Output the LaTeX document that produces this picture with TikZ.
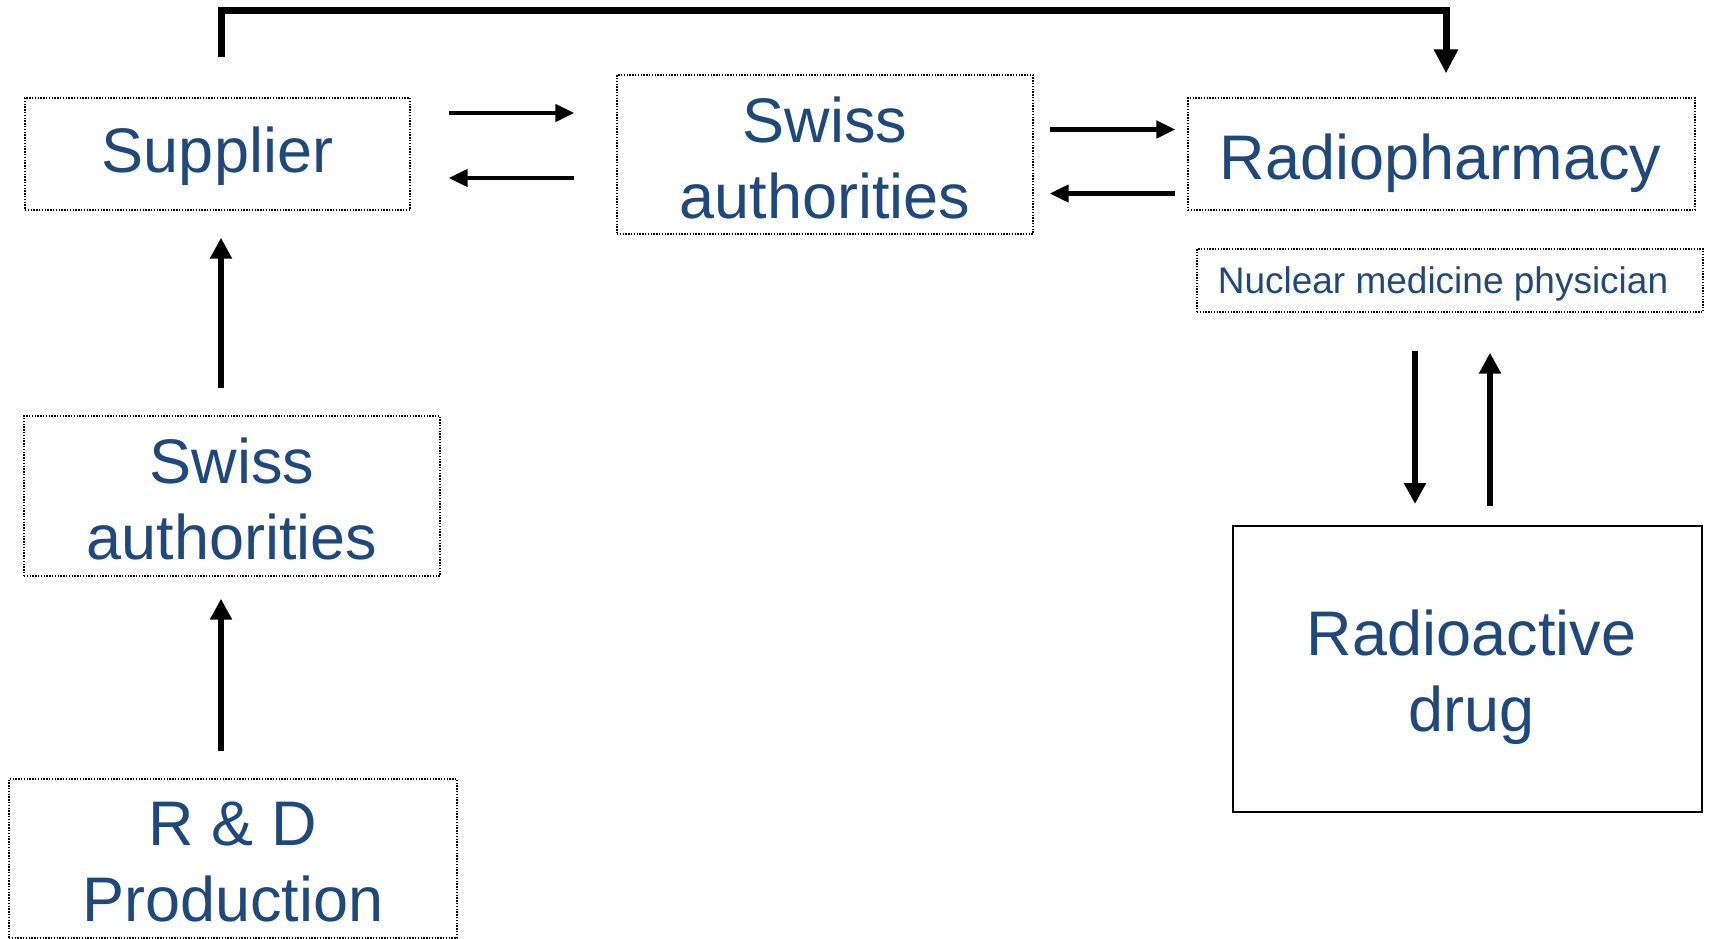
\documentclass[tikz,border=0pt]{standalone}
\usepackage{fontspec}
\setmainfont{Liberation Sans}
\usetikzlibrary{arrows.meta}
\definecolor{txtblue}{RGB}{31,73,125}
\tikzset{
  bigtxt/.style={align=center, text=txtblue, font=\fontsize{63}{76}\selectfont, inner sep=0pt},
  dotbox/.style={draw=black, line width=1.4pt, dash pattern=on 1.4pt off 1.4pt, inner sep=0pt},
  solidbox/.style={draw=black, line width=2pt, inner sep=0pt},
  varr/.style={line width=6pt, -{Triangle[width=21pt,length=21pt]}},
  harr/.style={line width=4.5pt, -{Triangle[width=17pt,length=19pt]}},
  toparr/.style={line width=7pt, -{Triangle[width=23pt,length=24pt]}},
}
\begin{document}
\begin{tikzpicture}[x=1pt,y=-1pt]
\useasboundingbox (0,0) rectangle (1709,939);
\node[dotbox, minimum width=385pt, minimum height=112pt,
  label={[bigtxt, yshift=-2pt]center:Supplier}] (sup) at (217.5,154) {};
\node[dotbox, minimum width=416pt, minimum height=159pt,
  label={[bigtxt, yshift=-3pt]center:Swiss\\authorities}] (swm) at (825,154.5) {};
\node[dotbox, minimum width=507pt, minimum height=112pt,
  label={[bigtxt, yshift=-9pt, xshift=-1pt]center:Radiopharmacy}] (rad) at (1441.5,154) {};
\node[dotbox, minimum width=506pt, minimum height=63pt,
  label={[bigtxt, font=\fontsize{37}{44}\selectfont, yshift=-3pt, xshift=-7pt]center:Nuclear medicine physician}] (nmp) at (1450,280.5) {};
\node[solidbox, minimum width=469pt, minimum height=286pt,
  label={[bigtxt, yshift=-8pt, xshift=4pt]center:Radioactive\\drug}] (drug) at (1467.5,669) {};
\node[dotbox, minimum width=416pt, minimum height=160pt,
  label={[bigtxt, yshift=-3pt]center:Swiss\\authorities}] (swl) at (232,496) {};
\node[dotbox, minimum width=448pt, minimum height=159pt,
  label={[bigtxt, yshift=-4pt]center:R \& D\\Production}] (rd) at (233,858.5) {};

% top connector
\draw[toparr, shorten <=40pt, shorten >=24pt] ([xshift=3.5pt]sup.north) -- ++(0,-87) -| ([xshift=4.5pt]rad.north);
% supplier <-> swiss mid
\draw[harr, shorten <=38pt, shorten >=42pt] ([yshift=41pt]sup.east) -- ([yshift=41pt]sup.east -| swm.west);
\draw[harr, shorten <=42pt, shorten >=38pt] ([yshift=-24pt]sup.east -| swm.west) -- ([yshift=-24pt]sup.east);
% swiss mid <-> radiopharmacy
\draw[harr, shorten <=16pt, shorten >=12pt] ([yshift=25pt]swm.east) -- ([yshift=25pt]swm.east -| rad.west);
\draw[harr, shorten <=12pt, shorten >=16pt] ([yshift=-39pt]swm.east -| rad.west) -- ([yshift=-39pt]swm.east);
% left column
\draw[varr, shorten <=27pt, shorten >=27pt] ([xshift=3.5pt]sup.south |- swl.north) -- ([xshift=3.5pt]sup.south);
\draw[varr, shorten <=27pt, shorten >=22pt] ([xshift=3.5pt]sup.south |- rd.north) -- ([xshift=3.5pt]sup.south |- swl.south);
% right column
\draw[varr, shorten <=38pt, shorten >=21pt] ([xshift=-35pt]nmp.south) -- ([xshift=-35pt]nmp.south |- drug.north);
\draw[varr, shorten <=19pt, shorten >=40pt] ([xshift=40pt]nmp.south |- drug.north) -- ([xshift=40pt]nmp.south);
\end{tikzpicture}
\end{document}
